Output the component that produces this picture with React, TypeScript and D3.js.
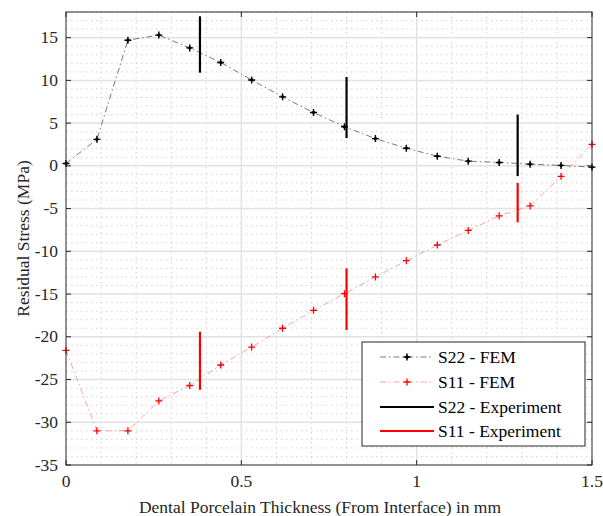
import React from "react";
import * as d3 from "d3";

const xTicks = [0, 0.5, 1, 1.5];
const xTickLabels = ["0", "0.5", "1", "1.5"];
const yTicks = [15, 10, 5, 0, -5, -10, -15, -20, -25, -30, -35];
const femX = [0, 0.0882, 0.1765, 0.2647, 0.3529, 0.4412, 0.5294, 0.6176, 0.7059, 0.7941, 0.8824, 0.9706, 1.0588, 1.1471, 1.2353, 1.3235, 1.4118, 1.5];
const s22Fem = [0.28, 3.1, 14.7, 15.3, 13.8, 12.1, 10.05, 8.07, 6.24, 4.58, 3.19, 2.06, 1.13, 0.55, 0.4, 0.2, 0.05, -0.15];
const s11Fem = [-21.6, -31.0, -31.0, -27.5, -25.7, -23.3, -21.2, -19.0, -16.9, -14.95, -13.0, -11.1, -9.26, -7.56, -5.85, -4.69, -1.23, 2.52];
const expX = [0.382, 0.8, 1.288];
const s22ExpLow = [10.9, 3.26, -1.2];
const s22ExpHigh = [17.5, 10.4, 6.0];
const s11ExpLow = [-26.2, -19.2, -6.6];
const s11ExpHigh = [-19.4, -12.0, -2.0];
const legendLabels = ["S22 - FEM", "S11 - FEM", "S22 - Experiment", "S11 - Experiment"];

const W = 603, H = 516;
const L = 66, R = 592, T = 12, B = 465;
const FONT = "Liberation Serif, Times New Roman, serif";
const FS = 17.5;

export default function App() {
  const x = d3.scaleLinear().domain([0, 1.5]).range([L, R]);
  const y = d3.scaleLinear().domain([-35, 18]).range([B, T]);
  const minorX = d3.range(0, 1.5001, 0.1).map((v) => +v.toFixed(2));
  const minorY = d3.range(-35, 18.001, 1);
  const line = d3.line<number>().x((_, i) => x(femX[i])).y((d) => y(d));

  const black = "#000";
  const red = "#ff0000";

  const s22Marker = (cx: number, cy: number, k: string) => (
    <g key={k}>
      <path d={`M${cx - 3.5},${cy}H${cx + 3.5}M${cx},${cy - 3.5}V${cy + 3.5}`} stroke={black} strokeWidth={1.4} />
      <path d={`M${cx - 2.2},${cy}L${cx},${cy - 2.2}L${cx + 2.2},${cy}L${cx},${cy + 2.2}Z`} fill={black} />
    </g>
  );
  const s11Marker = (cx: number, cy: number, k: string) => (
    <path key={k} d={`M${cx - 3.5},${cy}H${cx + 3.5}M${cx},${cy - 3.5}V${cy + 3.5}`} stroke={red} strokeWidth={1.3} />
  );

  const legX = 362, legY = 342, legW = 223, legH = 104;
  const rowY = [357, 382, 407, 431];
  const txt = { fontFamily: FONT } as React.CSSProperties;

  return (
    <svg width={W} height={H} style={{ position: "absolute", left: 0, top: 0, background: "#fff", fontFamily: FONT }}>
      <rect x={0} y={0} width={W} height={H} fill="#fff" />
      {minorX.filter((v) => !xTicks.includes(v)).map((v) => (
        <line key={"mx" + v} x1={x(v)} x2={x(v)} y1={T} y2={B} stroke="#c8c8c8" strokeWidth={0.8} strokeDasharray="1.5,3.5" />
      ))}
      {minorY.filter((v) => v % 5 !== 0).map((v) => (
        <line key={"my" + v} x1={L} x2={R} y1={y(v)} y2={y(v)} stroke="#c8c8c8" strokeWidth={0.8} strokeDasharray="1.5,3.5" />
      ))}
      {xTicks.slice(1, -1).map((v) => (
        <line key={"gx" + v} x1={x(v)} x2={x(v)} y1={T} y2={B} stroke="#e2e2e2" strokeWidth={1.5} />
      ))}
      {yTicks.slice(0, -1).map((v) => (
        <line key={"gy" + v} x1={L} x2={R} y1={y(v)} y2={y(v)} stroke="#e2e2e2" strokeWidth={1.5} />
      ))}
      <path d={line(s22Fem) || ""} fill="none" stroke="#555" strokeWidth={0.8} strokeDasharray="6,3,1.5,3" />
      <path d={line(s11Fem) || ""} fill="none" stroke="#f58a8a" strokeWidth={0.8} strokeDasharray="6,3,1.5,3" />
      {s22Fem.map((v, i) => s22Marker(x(femX[i]), y(v), "a" + i))}
      {s11Fem.map((v, i) => s11Marker(x(femX[i]), y(v), "b" + i))}
      {expX.map((v, i) => (
        <line key={"e22" + i} x1={x(v)} x2={x(v)} y1={y(s22ExpLow[i])} y2={y(s22ExpHigh[i])} stroke={black} strokeWidth={2.2} />
      ))}
      {expX.map((v, i) => (
        <line key={"e11" + i} x1={x(v)} x2={x(v)} y1={y(s11ExpLow[i])} y2={y(s11ExpHigh[i])} stroke={red} strokeWidth={2.2} />
      ))}
      <rect x={L} y={T} width={R - L} height={B - T} fill="none" stroke="#262626" strokeWidth={1} />
      {xTicks.map((v, i) => (
        <g key={"xt" + v}>
          <line x1={x(v)} x2={x(v)} y1={B} y2={B - 5} stroke="#262626" />
          <line x1={x(v)} x2={x(v)} y1={T} y2={T + 5} stroke="#262626" />
          <text style={txt} x={x(v)} y={487} textAnchor="middle" fontSize={FS} fill="#262626">{xTickLabels[i]}</text>
        </g>
      ))}
      {yTicks.map((v) => (
        <g key={"yt" + v}>
          <line x1={L} x2={L + 5} y1={y(v)} y2={y(v)} stroke="#262626" />
          <line x1={R} x2={R - 5} y1={y(v)} y2={y(v)} stroke="#262626" />
          <text style={txt} x={58} y={y(v) + 5.5} textAnchor="end" fontSize={FS} fill="#262626">{v}</text>
        </g>
      ))}
      <text style={txt} x={320} y={513} textAnchor="middle" fontSize={FS} fill="#262626">
        Dental Porcelain Thickness (From Interface) in mm
      </text>
      <text style={txt} transform={`translate(29,${(T + B) / 2}) rotate(-90)`} textAnchor="middle" fontSize={FS} fill="#262626">
        Residual Stress (MPa)
      </text>
      <rect x={legX} y={legY} width={legW} height={legH} fill="#fff" stroke="#262626" strokeWidth={1} />
      <line x1={380} x2={434} y1={rowY[0]} y2={rowY[0]} stroke="#555" strokeWidth={0.8} strokeDasharray="6,3,1.5,3" />
      {s22Marker(407, rowY[0], "l0")}
      <line x1={380} x2={434} y1={rowY[1]} y2={rowY[1]} stroke="#f58a8a" strokeWidth={0.8} strokeDasharray="6,3,1.5,3" />
      {s11Marker(407, rowY[1], "l1")}
      <line x1={380} x2={434} y1={rowY[2]} y2={rowY[2]} stroke={black} strokeWidth={2.2} />
      <line x1={380} x2={434} y1={rowY[3]} y2={rowY[3]} stroke={red} strokeWidth={2.2} />
      {legendLabels.map((t, i) => (
        <text style={txt} key={t} x={438} y={rowY[i] + 6} fontSize={FS} fill="#000">{t}</text>
      ))}
    </svg>
  );
}
